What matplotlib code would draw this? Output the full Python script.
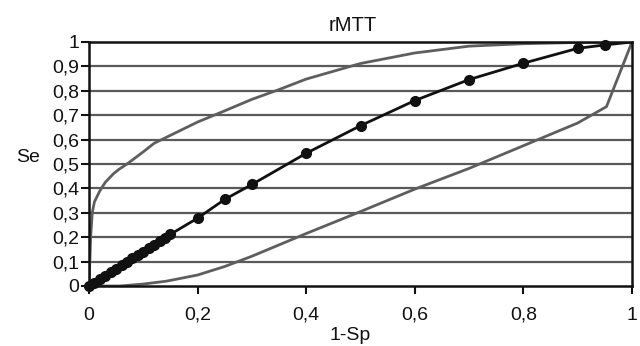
import matplotlib
matplotlib.use("Agg")
import matplotlib.pyplot as plt

plt.rcParams['font.family'] = ['Liberation Sans', 'DejaVu Sans']

# ROC curve (black, with markers)
roc_x = [0, 0.01, 0.02, 0.03, 0.04, 0.05, 0.06, 0.07, 0.08, 0.09, 0.10, 0.11,
         0.12, 0.13, 0.14, 0.15, 0.20, 0.25, 0.30, 0.40, 0.50, 0.60, 0.70,
         0.80, 0.90, 0.95]
roc_y = [0, 0.014, 0.028, 0.043, 0.057, 0.071, 0.085, 0.099, 0.113, 0.127,
         0.141, 0.155, 0.169, 0.183, 0.197, 0.212, 0.278, 0.355, 0.416, 0.544,
         0.657, 0.760, 0.846, 0.913, 0.974, 0.988]
roc_end_x = [0.95, 1.0]
roc_end_y = [0.988, 1.0]

# Upper confidence band (gray)
upper_x = [0, 0.003, 0.006, 0.01, 0.02, 0.03, 0.045, 0.055, 0.07, 0.085,
           0.10, 0.12, 0.20, 0.25, 0.30, 0.35, 0.40, 0.50, 0.60, 0.70,
           0.80, 0.90, 1.0]
upper_y = [0, 0.20, 0.30, 0.345, 0.39, 0.425, 0.46, 0.478, 0.50, 0.525,
           0.55, 0.585, 0.672, 0.718, 0.765, 0.805, 0.848, 0.912, 0.955,
           0.983, 0.993, 0.998, 1.0]

# Lower confidence band (gray)
lower_x = [0, 0.057, 0.10, 0.143, 0.20, 0.25, 0.30, 0.40, 0.50, 0.60, 0.70,
           0.80, 0.90, 0.953, 1.0]
lower_y = [0, 0, 0.008, 0.02, 0.045, 0.08, 0.122, 0.215, 0.305, 0.397, 0.482,
           0.575, 0.668, 0.735, 1.0]

x_ticks = [0, 0.2, 0.4, 0.6, 0.8, 1.0]
x_labels = ['0', '0,2', '0,4', '0,6', '0,8', '1']
y_ticks = [0, 0.1, 0.2, 0.3, 0.4, 0.5, 0.6, 0.7, 0.8, 0.9, 1.0]
y_labels = ['0', '0,1', '0,2', '0,3', '0,4', '0,5', '0,6', '0,7', '0,8', '0,9', '1']

fig = plt.figure(figsize=(6.4, 3.46), dpi=100)
ax = fig.add_axes([89/640, 60/346, 543/640, 244/346])

for yv in y_ticks[1:-1]:
    ax.axhline(yv, color='#5a5a5a', lw=1.6, zorder=1)

gray = '#5e5e5e'
ax.plot(upper_x, upper_y, color=gray, lw=2.0, zorder=2)
ax.plot(lower_x, lower_y, color=gray, lw=2.0, zorder=2)
ax.plot(roc_x, roc_y, color='#111111', lw=2.0, marker='o', ms=7,
        mfc='#111111', mec='#111111', zorder=3, clip_on=False)
ax.plot(roc_end_x, roc_end_y, color='#111111', lw=2.0, zorder=3)

ax.set_xlim(0, 1)
ax.set_ylim(0, 1)
ax.set_xticks(x_ticks)
ax.set_xticklabels(x_labels)
ax.set_yticks(y_ticks)
ax.set_yticklabels(y_labels)
ax.tick_params(axis='both', direction='out', length=6, width=1.5,
               labelsize=14, colors='#111111')
ax.tick_params(axis='x', pad=9)
ax.tick_params(axis='y', pad=1)
for s in ax.spines.values():
    s.set_linewidth(1.8)
    s.set_color('#111111')

ax.set_title('rMTT', fontsize=14.5, color='#111111', pad=8, x=0.485)
ax.set_xlabel('1-Sp', fontsize=14, color='#111111', labelpad=2, x=0.48)
ax.set_ylabel('Se', fontsize=14, color='#111111', rotation=0,
              labelpad=12, va='center')
ax.yaxis.set_label_coords(-0.112, 0.525)

fig.savefig('out.png', dpi=100, facecolor='white')
